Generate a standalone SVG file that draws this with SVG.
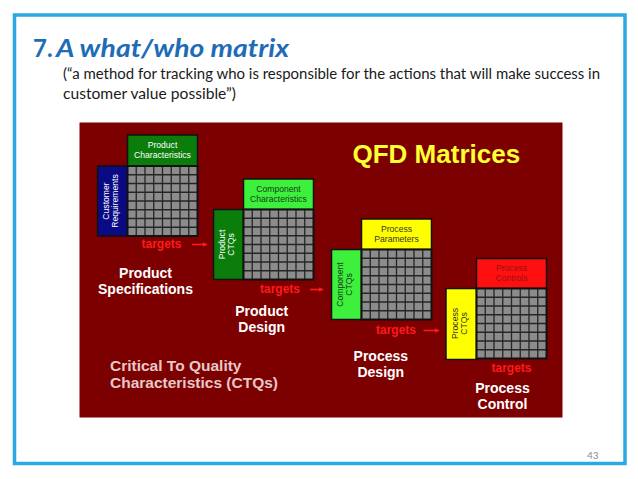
<svg xmlns="http://www.w3.org/2000/svg" xmlns:xlink="http://www.w3.org/1999/xlink" width="638" height="479" viewBox="0 0 638 479">
<style>
.lbl{font-family:"Liberation Sans",Arial,sans-serif;font-size:8.6px;text-anchor:middle}
.stage{font-family:"Liberation Sans",Arial,sans-serif;font-weight:bold;font-size:14px;fill:#ffffff;text-anchor:middle}
.tgt{font-family:"Liberation Sans",Arial,sans-serif;font-weight:bold;font-size:12px;fill:#ff1a1a}
.box{stroke:#111;stroke-width:1.5}
.arrow{stroke:#ff1a1a;stroke-width:1.6;fill:none}
</style>
<defs>
<g id="grid">
<rect x="0" y="0" width="70" height="70" fill="#8c8c8c"/>
<path d="M8.75 0V70M17.5 0V70M26.25 0V70M35 0V70M43.75 0V70M52.5 0V70M61.25 0V70M0 8.75H70M0 17.5H70M0 26.25H70M0 35H70M0 43.75H70M0 52.5H70M0 61.25H70" stroke="#262626" stroke-width="1.3" fill="none"/>
<rect x="0" y="0" width="70" height="70" fill="none" stroke="#111" stroke-width="2"/>
</g>
<marker id="ah" viewBox="0 0 10 10" refX="9" refY="5" markerWidth="5" markerHeight="5" orient="auto" markerUnits="userSpaceOnUse">
<path d="M0 0L10 5L0 10Z" fill="#ff1a1a"/>
</marker>
</defs>
<rect x="0" y="0" width="638" height="479" fill="#ffffff"/>
<rect x="14.5" y="15" width="610.5" height="448.5" fill="#ffffff" stroke="#29a9e1" stroke-width="3.5"/>
<g id="title">
<text x="33" y="57" font-family="Lato,'Open Sans',sans-serif" font-weight="bold" font-size="24" fill="#1e6bb6">7.</text>
<text x="56" y="57" font-family="Lato,'Open Sans',sans-serif" font-weight="bold" font-style="italic" font-size="24" fill="#1e6bb6" textLength="233" lengthAdjust="spacingAndGlyphs">A what/who matrix</text>
</g>
<g id="subtitle" font-family="Lato,'Open Sans',sans-serif" font-size="15.5" fill="#1a1a1a">
<text x="63" y="79" textLength="537" lengthAdjust="spacingAndGlyphs">(“a method for tracking who is responsible for the actions that will make success in</text>
<text x="63" y="99" textLength="173" lengthAdjust="spacingAndGlyphs">customer value possible”)</text>
</g>
<rect id="qfd-bg" x="79.5" y="122.5" width="483" height="295" fill="#7d0000"/>
<g id="qfd-title">
<text x="352.5" y="162.5" font-family="Liberation Sans,Arial,sans-serif" font-weight="bold" font-size="26" fill="#ffff33">QFD Matrices</text>
</g>
<g id="matrix1" transform="translate(127.5,166)">
<rect class="box" x="0" y="-31" width="70" height="31" fill="#0a7d0a"/>
<text class="lbl" x="35" y="-18.5" fill="#ffffff">Product</text>
<text class="lbl" x="35" y="-8.5" fill="#ffffff">Characteristics</text>
<rect class="box" x="-30" y="0" width="30" height="70" fill="#0a0a85"/>
<text class="lbl" fill="#ffffff" transform="translate(-19,35) rotate(-90)">Customer</text>
<text class="lbl" fill="#ffffff" transform="translate(-10,35) rotate(-90)">Requirements</text>
<use xlink:href="#grid"/>
</g>
<g id="matrix2" transform="translate(243.5,209.5)">
<rect class="box" x="0" y="-30.5" width="70" height="30.5" fill="#3cf03c"/>
<text class="lbl" x="35" y="-18" fill="#1c3a1c">Component</text>
<text class="lbl" x="35" y="-8" fill="#1c3a1c">Characteristics</text>
<rect class="box" x="-30" y="0" width="30" height="70" fill="#0a7d0a"/>
<text class="lbl" fill="#ffffff" transform="translate(-18.5,35) rotate(-90)">Product</text>
<text class="lbl" fill="#ffffff" transform="translate(-9.5,35) rotate(-90)">CTQs</text>
<use xlink:href="#grid"/>
</g>
<g id="matrix3" transform="translate(361.5,249.5)">
<rect class="box" x="0" y="-30.5" width="70" height="30.5" fill="#ffff00"/>
<text class="lbl" x="35" y="-18" fill="#333333">Process</text>
<text class="lbl" x="35" y="-8" fill="#333333">Parameters</text>
<rect class="box" x="-30" y="0" width="30" height="70" fill="#3cf03c"/>
<text class="lbl" fill="#1c3a1c" transform="translate(-18.5,35) rotate(-90)">Component</text>
<text class="lbl" fill="#1c3a1c" transform="translate(-9.5,35) rotate(-90)">CTQs</text>
<use xlink:href="#grid"/>
</g>
<g id="matrix4" transform="translate(476.5,288.5)">
<rect class="box" x="0" y="-30" width="70" height="30" fill="#ff1010"/>
<text class="lbl" x="35" y="-18" fill="#9a1010">Process</text>
<text class="lbl" x="35" y="-8" fill="#9a1010">Controls</text>
<rect class="box" x="-30.5" y="0" width="30.5" height="71" fill="#ffff00"/>
<text class="lbl" fill="#333333" transform="translate(-19,35) rotate(-90)">Process</text>
<text class="lbl" fill="#333333" transform="translate(-10,35) rotate(-90)">CTQs</text>
<use xlink:href="#grid"/>
</g>
<g id="targets-labels">
<text class="tgt" x="141.5" y="248">targets</text>
<text class="tgt" x="260" y="293">targets</text>
<text class="tgt" x="376" y="334">targets</text>
<text class="tgt" x="491.5" y="372">targets</text>
</g>
<g id="connectors">
<line class="arrow" x1="192" y1="244.5" x2="207" y2="244.5" marker-end="url(#ah)"/>
<line class="arrow" x1="310" y1="289.5" x2="323" y2="289.5" marker-end="url(#ah)"/>
<line class="arrow" x1="423.5" y1="330.5" x2="439" y2="330.5" marker-end="url(#ah)"/>
</g>
<g id="stage-product-spec">
<text class="stage" x="145.5" y="278">Product</text>
<text class="stage" x="145.5" y="293.5">Specifications</text>
</g>
<g id="stage-product-design">
<text class="stage" x="261.7" y="316">Product</text>
<text class="stage" x="261.7" y="332">Design</text>
</g>
<g id="stage-process-design">
<text class="stage" x="380.8" y="360.5">Process</text>
<text class="stage" x="380.8" y="376.5">Design</text>
</g>
<g id="stage-process-control">
<text class="stage" x="502.5" y="392.5">Process</text>
<text class="stage" x="502.5" y="408.5">Control</text>
</g>
<g id="ctq-label" font-family="Liberation Sans,Arial,sans-serif" font-weight="bold" font-size="15.5" fill="#e6c8c8">
<text x="110" y="370.5">Critical To Quality</text>
<text x="110" y="388">Characteristics (CTQs)</text>
</g>
<text x="587" y="459" font-family="Lato,'Open Sans',sans-serif" font-size="10" fill="#8a8a8a">43</text>
</svg>
